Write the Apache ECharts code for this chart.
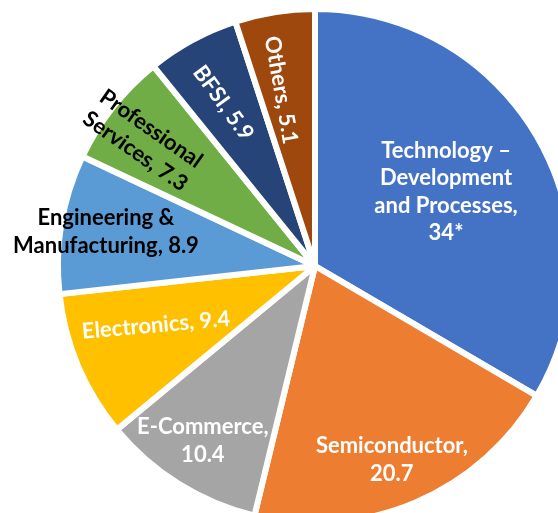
<!DOCTYPE html>
<html>
<head>
<meta charset="utf-8">
<script src="https://cdn.jsdelivr.net/npm/echarts@6/dist/echarts.min.js"></script>
<style>
  html, body { margin: 0; padding: 0; background: #ffffff; }
  #chart { width: 558px; height: 513px; }
</style>
</head>
<body>
<div id="chart"></div>
<script>
// Sector names (line breaks as set in the slice labels), shares and footnote marks
const categories = [
  'Technology –\nDevelopment\nand Processes',
  'Semiconductor',
  'E-Commerce',
  'Electronics',
  'Engineering &\nManufacturing',
  'Professional\nServices',
  'BFSI',
  'Others'
];
const values = [34, 20.7, 10.4, 9.4, 8.9, 7.3, 5.9, 5.1];
const notes = ['*', '', '', '', '', '', '', ''];
const valueOnNewLine = [true, true, true, false, false, false, false, false];

// Styling
const colors = ['#4472C4', '#ED7D31', '#A5A5A5', '#FFC000', '#5B9BD5', '#70AD47', '#264478', '#9E480E'];
const labelColors = ['#fff', '#fff', '#fff', '#fff', '#000', '#000', '#fff', '#fff'];
const labelRadius = [0.586, 0.812, 0.809, 0.660, 0.824, 0.829, 0.728, 0.697];
const labelAngleShift = [0.3, 1.4, 0.6, 2.5, -0.2, -1.9, -0.9, -1.9];
const labelRotate = [0, 0, 0, 5, 0, -35, -54, -80];

const center = [315, 266];
const radius = 257;

const total = values.reduce((a, b) => a + b, 0);
const midAngles = [];
let acc = 0;
values.forEach(v => {
  midAngles.push((acc + v / 2) / total * 360);
  acc += v;
});

const data = categories.map((name, i) => ({
  name: name,
  value: values[i],
  itemStyle: { color: colors[i] },
  label: { color: labelColors[i] }
}));

const chart = echarts.init(document.getElementById('chart'), null, { renderer: 'canvas' });
chart.setOption({
  animation: false,
  backgroundColor: '#ffffff',
  series: [{
    type: 'pie',
    center: center,
    radius: radius,
    startAngle: 90,
    clockwise: true,
    data: data,
    itemStyle: { borderColor: '#ffffff', borderWidth: 6 },
    label: {
      show: true,
      position: 'inside',
      fontFamily: 'Lato',
      fontWeight: 'bold',
      fontSize: 22,
      lineHeight: 27.5,
      align: 'center',
      formatter: p => p.name + ',' + (valueOnNewLine[p.dataIndex] ? '\n' : ' ') + p.value + notes[p.dataIndex]
    },
    labelLine: { show: false },
    labelLayout: p => {
      const i = p.dataIndex;
      const a = (midAngles[i] + labelAngleShift[i]) * Math.PI / 180;
      const r = radius * labelRadius[i];
      return {
        x: center[0] + r * Math.sin(a),
        y: center[1] - r * Math.cos(a),
        rotate: labelRotate[i],
        align: 'center',
        verticalAlign: 'middle'
      };
    }
  }]
});
</script>
</body>
</html>
